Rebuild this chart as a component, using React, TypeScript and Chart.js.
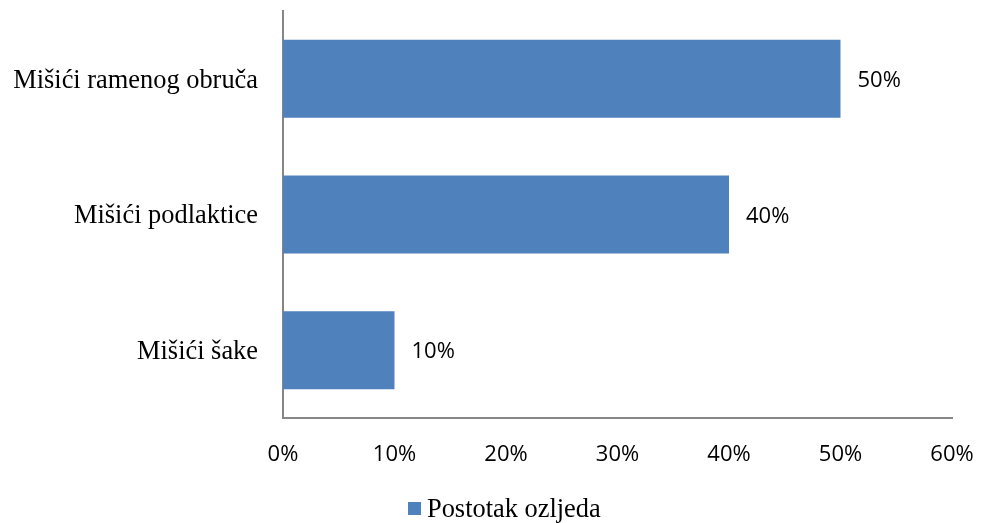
import React, { useEffect, useRef } from "react";
import { Chart, registerables } from "chart.js";

Chart.register(...registerables);

const categories = ["Mišići ramenog obruča", "Mišići podlaktice", "Mišići šake"];
const values = [50, 40, 10];
const seriesLabel = "Postotak ozljeda";
const xTicks = [0, 10, 20, 30, 40, 50, 60];

const BAR_COLOR = "#4F81BD";
const AXIS_COLOR = "#868686";
const SANS = "'Open Sans', sans-serif";
const SERIF = "'Liberation Serif', 'Times New Roman', serif";

const dataLabelPlugin = {
  id: "dataLabels",
  afterDatasetsDraw(chart: any) {
    const ctx = chart.ctx;
    const meta = chart.getDatasetMeta(0);
    ctx.save();
    ctx.font = `22px ${SANS}`;
    ctx.fillStyle = "#000";
    ctx.textAlign = "left";
    ctx.textBaseline = "middle";
    meta.data.forEach((bar: any, i: number) => {
      ctx.fillText(`${values[i]}%`, bar.x + 17, bar.y + 2);
    });
    ctx.restore();
  },
};

const legendPlugin = {
  id: "customLegend",
  afterDraw(chart: any) {
    const ctx = chart.ctx;
    const ds = chart.data.datasets[0];
    ctx.save();
    ctx.fillStyle = ds.backgroundColor;
    ctx.fillRect(408, 502, 13, 13);
    ctx.font = `26.4px ${SERIF}`;
    ctx.fillStyle = "#000";
    ctx.textAlign = "left";
    ctx.textBaseline = "alphabetic";
    ctx.fillText(ds.label, 427, 517);
    ctx.restore();
  },
};

function zeroPad(scale: any) {
  scale.paddingTop = 0;
  scale.paddingBottom = 0;
  scale.paddingLeft = 0;
  scale.paddingRight = 0;
}

export default function App() {
  const ref = useRef<HTMLCanvasElement | null>(null);
  useEffect(() => {
    if (!ref.current) return;
    const chart = new Chart(ref.current, {
      type: "bar",
      data: {
        labels: categories,
        datasets: [
          {
            label: seriesLabel,
            data: values,
            backgroundColor: BAR_COLOR,
            borderWidth: 0,
            categoryPercentage: 1,
            barPercentage: 0.575,
          },
        ],
      },
      options: {
        indexAxis: "y",
        responsive: false,
        animation: false,
        layout: { padding: { top: 11, right: 31, left: 0, bottom: 0 } },
        plugins: {
          legend: { display: false },
          tooltip: { enabled: false },
        },
        scales: {
          x: {
            min: 0,
            max: 60,
            afterFit(scale: any) {
              scale.height = 105;
              zeroPad(scale);
            },
            afterBuildTicks(scale: any) {
              scale.ticks = xTicks.map((v) => ({ value: v }));
            },
            ticks: {
              padding: 24,
              color: "#000",
              font: { family: SANS, size: 22 },
              callback: (v: any) => `${v}%`,
            },
            grid: { display: false, drawTicks: false },
            border: { display: true, color: AXIS_COLOR, width: 2 },
          },
          y: {
            afterFit(scale: any) {
              scale.width = 283;
              zeroPad(scale);
            },
            ticks: {
              padding: 25,
              labelOffset: 2,
              color: "#000",
              font: { family: SERIF, size: 26.4 },
            },
            grid: { display: false, drawTicks: false },
            border: { display: true, color: AXIS_COLOR, width: 2 },
          },
        },
      },
      plugins: [dataLabelPlugin, legendPlugin],
    });
    return () => chart.destroy();
  }, []);
  return (
    <div style={{ position: "fixed", left: 0, top: 0, width: 983, height: 523, background: "#fff" }}>
      <canvas ref={ref} width={983} height={523} />
    </div>
  );
}
